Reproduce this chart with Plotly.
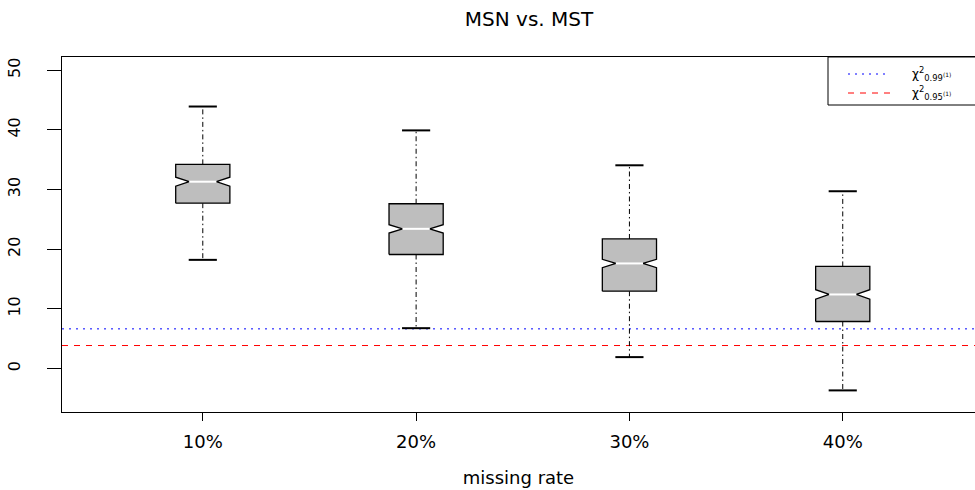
import plotly.graph_objects as go

# ---- data ----
categories = ["10%", "20%", "30%", "40%"]
upper_whisker = [43.9, 39.9, 34.05, 29.7]
q3 = [34.2, 27.6, 21.7, 17.1]
median = [31.3, 23.4, 17.6, 12.4]
q1 = [27.7, 19.1, 12.95, 7.87]
lower_whisker = [18.2, 6.75, 1.9, -3.68]
notch_half = [0.75, 0.7, 0.7, 0.8]

chi2_values = [6.635, 3.841]
chi2_labels = ["χ<sup>2</sup><sub>0.99<sup>(1)</sup></sub>",
               "χ<sup>2</sup><sub>0.95<sup>(1)</sup></sub>"]
chi2_colors = ["blue", "red"]
chi2_dash = ["2px,5px", "6px,6px"]

FONT = "DejaVu Sans, Liberation Sans, Arial, sans-serif"
HW = 0.127      # box half width (axis units)
CW = 0.066      # staple half width
NX = HW / 2     # notch tip half width

fig = go.Figure()

# reference lines
for v, c, d in zip(chi2_values, chi2_colors, chi2_dash):
    fig.add_shape(type="line", xref="paper", x0=0, x1=1, yref="y", y0=v, y1=v,
                  line=dict(color=c, width=1, dash=d), layer="below")

# whiskers (dash-dot)
wx, wy = [], []
for i in range(len(categories)):
    wx += [i, i, None, i, i, None]
    wy += [q3[i], upper_whisker[i], None, q1[i], lower_whisker[i], None]
fig.add_trace(go.Scatter(x=wx, y=wy, mode="lines", hoverinfo="skip",
                         line=dict(color="black", width=1, dash="5px,3px,1.5px,3px"),
                         showlegend=False))

# staples
sx, sy = [], []
for i in range(len(categories)):
    sx += [i - CW, i + CW, None, i - CW, i + CW, None]
    sy += [upper_whisker[i], upper_whisker[i], None, lower_whisker[i], lower_whisker[i], None]
fig.add_trace(go.Scatter(x=sx, y=sy, mode="lines", hoverinfo="skip",
                         line=dict(color="black", width=2), showlegend=False))

# notched boxes
for i in range(len(categories)):
    m, n = median[i], notch_half[i]
    px = [i - HW, i - HW, i - NX, i - HW, i - HW, i + HW, i + HW, i + NX, i + HW, i + HW, i - HW]
    py = [q1[i], m - n, m, m + n, q3[i], q3[i], m + n, m, m - n, q1[i], q1[i]]
    fig.add_trace(go.Scatter(x=px, y=py, mode="lines", fill="toself",
                             fillcolor="#BEBEBE", line=dict(color="black", width=1.3),
                             hoverinfo="skip", showlegend=False))

# medians (white)
mx, my = [], []
for i in range(len(categories)):
    mx += [i - NX, i + NX, None]
    my += [median[i], median[i], None]
fig.add_trace(go.Scatter(x=mx, y=my, mode="lines", hoverinfo="skip",
                         line=dict(color="white", width=2), showlegend=False))

# legend box (top right, drawn like R's legend)
PLOT_L, PLOT_W = 62, 913
PLOT_T, PLOT_H = 57, 355
def px2paper_x(p):
    return (p - PLOT_L) / PLOT_W
def px2paper_y(p):
    return 1 - (p - PLOT_T) / PLOT_H

fig.add_shape(type="rect", xref="paper", yref="paper",
              x0=px2paper_x(828), x1=1.05, y0=px2paper_y(105), y1=1,
              line=dict(color="black", width=1), fillcolor="white", layer="above")
for k, (lab, c, d) in enumerate(zip(chi2_labels, chi2_colors, chi2_dash)):
    yy = px2paper_y(74 + k * 19)
    fig.add_shape(type="line", xref="paper", yref="paper",
                  x0=px2paper_x(848), x1=px2paper_x(890), y0=yy, y1=yy,
                  line=dict(color=c, width=1, dash=d), layer="above")
    fig.add_annotation(xref="paper", yref="paper", x=px2paper_x(910), y=yy,
                       text=lab, showarrow=False, xanchor="left", yanchor="middle",
                       font=dict(family=FONT, size=12, color="black"))

fig.update_layout(
    width=975, height=490,
    margin=dict(l=PLOT_L, r=0, t=PLOT_T, b=490 - PLOT_T - PLOT_H),
    paper_bgcolor="white", plot_bgcolor="white",
    font=dict(family=FONT, size=18, color="black"),
    title=dict(text="MSN vs. MST", x=529 / 975, xref="container", xanchor="center",
               y=1 - 19 / 490, yref="container", yanchor="middle",
               font=dict(family=FONT, size=20, color="black")),
    showlegend=False,
    xaxis=dict(range=[-0.66, 3.62], tickmode="array", tickvals=list(range(len(categories))),
               ticktext=categories, showgrid=False, zeroline=False,
               showline=True, linecolor="black", linewidth=1, mirror=True,
               ticks="outside", ticklen=8, tickcolor="black", tickwidth=1,
               tickfont=dict(size=18), ticklabelstandoff=5,
               title=dict(text="missing rate", standoff=20, font=dict(size=18))),
    yaxis=dict(range=[-7.3, 52.2], tickmode="array", tickvals=[0, 10, 20, 30, 40, 50],
               showgrid=False, zeroline=False, showline=True, linecolor="black", linewidth=1,
               ticks="outside", ticklen=14, tickcolor="black", tickwidth=1,
               tickangle=-90, tickfont=dict(size=16), ticklabelstandoff=21),
)

fig.write_html("out.html", config={"displayModeBar": False},
               post_script="document.body.style.margin='0';")
